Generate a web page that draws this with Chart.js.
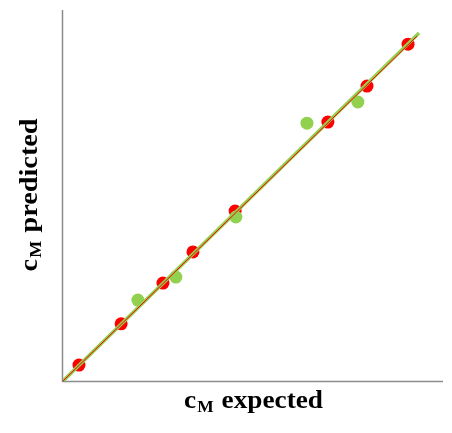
<!DOCTYPE html>
<html>
<head>
<meta charset="utf-8">
<script src="https://cdn.jsdelivr.net/npm/chart.js@4/dist/chart.umd.min.js"></script>
<style>
  html, body { margin: 0; padding: 0; background: #ffffff; }
  canvas { display: block; }
</style>
</head>
<body>
<canvas id="chart" width="452" height="433"></canvas>
<script>
// Series A (red) and series B (green): expected vs predicted c_M
const expectedA  = [4.2, 15.3, 26.3, 34.2, 45.3, 69.7, 80.0, 90.8];
const predictedA = [4.3, 15.4, 26.4, 34.8, 45.8, 69.8, 79.5, 90.8];
const expectedB  = [19.7, 29.7, 45.5, 64.2, 77.6];
const predictedB = [21.8, 28.0, 44.2, 69.5, 75.2];

// Fitted trend lines (start / end)
const fitAx = [0, 93.2];
const fitAy = [0, 93.0];
const fitBx = [0, 93.7];
const fitBy = [0, 93.8];

const axisTitleX = ['c', 'M', ' expected'];
const axisTitleY = ['c', 'M', ' predicted'];

const RED = '#ff0000';
const GREEN = '#92d050';

const pairs = (xs, ys) => xs.map((x, i) => ({ x: x, y: ys[i] }));

// Draws plain axis lines and the bold serif axis titles with subscripts
const axesPlugin = {
  id: 'axesAndTitles',
  beforeDatasetsDraw(chart) {
    const { ctx, chartArea: a } = chart;
    ctx.save();
    ctx.strokeStyle = '#8c8c8c';
    ctx.lineWidth = 1.5;
    ctx.beginPath();
    ctx.moveTo(a.left - 0.5, a.top);
    ctx.lineTo(a.left - 0.5, a.bottom + 0.5);
    ctx.lineTo(a.right, a.bottom + 0.5);
    ctx.stroke();
    ctx.restore();
  },
  afterDraw(chart) {
    const { ctx, chartArea: a } = chart;
    const mainFont = 'bold 25px "Liberation Serif", "Times New Roman", serif';
    const subFont = 'bold 16px "Liberation Serif", "Times New Roman", serif';

    function drawTitle(parts, cx, baseline, rotate, stretch) {
      ctx.save();
      ctx.translate(cx, baseline);
      if (rotate) ctx.rotate(-Math.PI / 2);
      ctx.scale(stretch, 1);
      ctx.fillStyle = '#000000';
      ctx.textBaseline = 'alphabetic';
      ctx.textAlign = 'left';
      ctx.font = mainFont;
      const w0 = ctx.measureText(parts[0]).width;
      ctx.font = subFont;
      const w1 = ctx.measureText(parts[1]).width + 1;
      ctx.font = mainFont;
      const w2 = ctx.measureText(parts[2]).width;
      let x = -(w0 + w1 + w2) / 2;
      ctx.fillText(parts[0], x, 0);
      x += w0 + 1;
      ctx.font = subFont;
      ctx.fillText(parts[1], x, 4);
      x += w1;
      ctx.font = mainFont;
      ctx.fillText(parts[2], x, 0);
      ctx.restore();
    }

    drawTitle(axisTitleX, (a.left + a.right) / 2, a.bottom + 27, false, 1.09);
    drawTitle(axisTitleY, a.left - 26, (a.top + a.bottom) / 2, true, 1.13);
  }
};

new Chart(document.getElementById('chart'), {
  type: 'scatter',
  data: {
    datasets: [
      {
        label: 'Fit A',
        type: 'line',
        data: pairs(fitAx, fitAy),
        borderColor: RED,
        borderWidth: 1,
        pointRadius: 0,
        fill: false,
        order: 0
      },
      {
        label: 'Fit B',
        type: 'line',
        data: pairs(fitBx, fitBy),
        borderColor: GREEN,
        borderWidth: 3.5,
        pointRadius: 0,
        fill: false,
        order: 1
      },
      {
        label: 'B',
        data: pairs(expectedB, predictedB),
        backgroundColor: GREEN,
        borderColor: GREEN,
        borderWidth: 0,
        pointRadius: 6.5,
        order: 2
      },
      {
        label: 'A',
        data: pairs(expectedA, predictedA),
        backgroundColor: RED,
        borderColor: RED,
        borderWidth: 0,
        pointRadius: 6.5,
        order: 3
      }
    ]
  },
  options: {
    responsive: false,
    animation: false,
    layout: { padding: { left: 63, top: 10, right: 9, bottom: 52 } },
    plugins: {
      legend: { display: false },
      tooltip: { enabled: false }
    },
    scales: {
      x: { type: 'linear', min: 0, max: 100, display: false },
      y: { type: 'linear', min: 0, max: 100, display: false }
    }
  },
  plugins: [axesPlugin]
});
</script>
</body>
</html>
